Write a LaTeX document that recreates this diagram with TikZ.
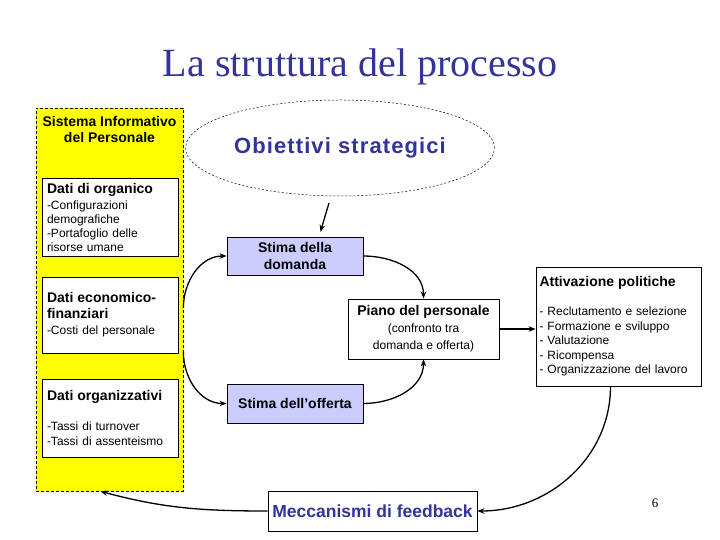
\documentclass[tikz,border=0pt]{standalone}
\usepackage{fontspec}
\setmainfont{Liberation Serif}
\newfontfamily\arialfont{Liberation Sans}
\usetikzlibrary{arrows.meta,shapes.geometric}

\definecolor{sipyellow}{HTML}{FFFF00}
\definecolor{stimablue}{HTML}{CCCCFF}
\definecolor{titleblue}{HTML}{333399}

\newcommand{\headfont}{\arialfont\bfseries\fontsize{14}{16}\selectfont}
\newcommand{\bodyfont}{\arialfont\fontsize{12}{14}\selectfont}

\tikzset{every picture/.style={line width=0.75pt}}
\tikzset{
    databox/.style={draw, fill=white, minimum width=136pt, text width=126pt, inner xsep=5pt, inner ysep=0pt, align=left, font=\bodyfont},
    stimabox/.style={draw, fill=stimablue, minimum width=136pt, inner sep=0pt, align=center, font=\headfont},
    flow/.style={line width=1.3pt, -{Stealth[length=7pt,width=5.5pt]}},
}

\begin{document}
\begin{tikzpicture}[x=1pt, y=1pt]
    \useasboundingbox (0,0) rectangle (720,540);
    \node[anchor=base, text=titleblue, font=\fontsize{40}{44}\selectfont] (title) at (360,463) {La struttura del processo};

    % sistema informativo
    \node[draw, dash pattern=on 3pt off 2pt, fill=sipyellow, minimum width=147pt, minimum height=383pt, inner sep=0pt] (sip) at (109.5,240.5) {};
    \node[font=\headfont, align=center] (siplabel) at (109.5,410) {Sistema Informativo\\del Personale};
    \node[databox, minimum height=78pt] (organico) at (110,323) {{\headfont Dati di organico}\\[2pt]-Configurazioni\\demografiche\\-Portafoglio delle\\risorse umane};
    \node[databox, minimum height=76pt] (econ) at (110,225) {{\headfont Dati economico-\\[2pt]finanziari}\\[2pt]-Costi del personale};
    \node[databox, minimum height=78pt] (organizz) at (110,122) {{\headfont Dati organizzativi}\\[16pt]-Tassi di turnover\\[1pt]-Tassi di assenteismo};

    % processo
    \node[ellipse, draw, dash pattern=on 2pt off 2pt, line width=0.5pt, minimum width=246pt, minimum height=96pt, text=titleblue, font=\arialfont\bfseries\fontsize{22}{26}\selectfont\addfontfeature{LetterSpace=5}] (obiettivi) at (340,392) {Obiettivi strategici};
    \node[stimabox, minimum height=38pt] (domanda) at (295,284) {Stima della\\[1pt]domanda};
    \node[stimabox, minimum height=39pt] (offerta) at (295,136.5) {Stima dell’offerta};
    \node[draw, fill=white, minimum width=151pt, minimum height=60pt, inner sep=0pt, align=center, font=\bodyfont] (piano) at (423.5,211) {{\headfont Piano del personale}\\[3pt](confronto tra\\[3pt]domanda e offerta)};
    \node[draw, fill=white, minimum width=165pt, minimum height=119pt, text width=158pt, inner xsep=3.5pt, align=left, font=\bodyfont] (politiche) at (618.5,213.5) {{\headfont Attivazione politiche}\\[15pt]- Reclutamento e selezione\\[0.5pt]- Formazione e sviluppo\\[0.5pt]- Valutazione\\[0.5pt]- Ricompensa\\[0.5pt]- Organizzazione del lavoro};
    \node[draw, fill=white, minimum width=209pt, minimum height=40pt, inner sep=0pt, text=titleblue, font=\arialfont\bfseries\fontsize{17.5}{20}\selectfont] (feedback) at (372.5,29) {Meccanismi di feedback};
    \node[font=\fontsize{13}{15}\selectfont] (pagenum) at (655,37) {6};

    % frecce
    \draw[flow, shorten <=7pt, shorten >=5pt] ([xshift=-9pt]obiettivi.south) -- ([xshift=24pt]domanda.north);
    \draw[flow] ([yshift=-8.5pt]sip.east) to[out=90, in=180] (domanda.west);
    \draw[flow] ([yshift=-52.5pt]sip.east) to[out=-90, in=180] (offerta.west);
    \draw[flow] (domanda.east) to[out=0, in=90] (piano.north);
    \draw[flow] (offerta.east) to[out=0, in=-90] (piano.south);
    \draw[flow] (piano.east) -- (piano.east -| politiche.west);
    \draw[flow] ([xshift=-8pt]politiche.south) to[out=-90, in=0] (feedback.east);
    \draw[flow] (feedback.west) to[out=180, in=-15] ([xshift=-9pt]sip.south);
\end{tikzpicture}
\end{document}
